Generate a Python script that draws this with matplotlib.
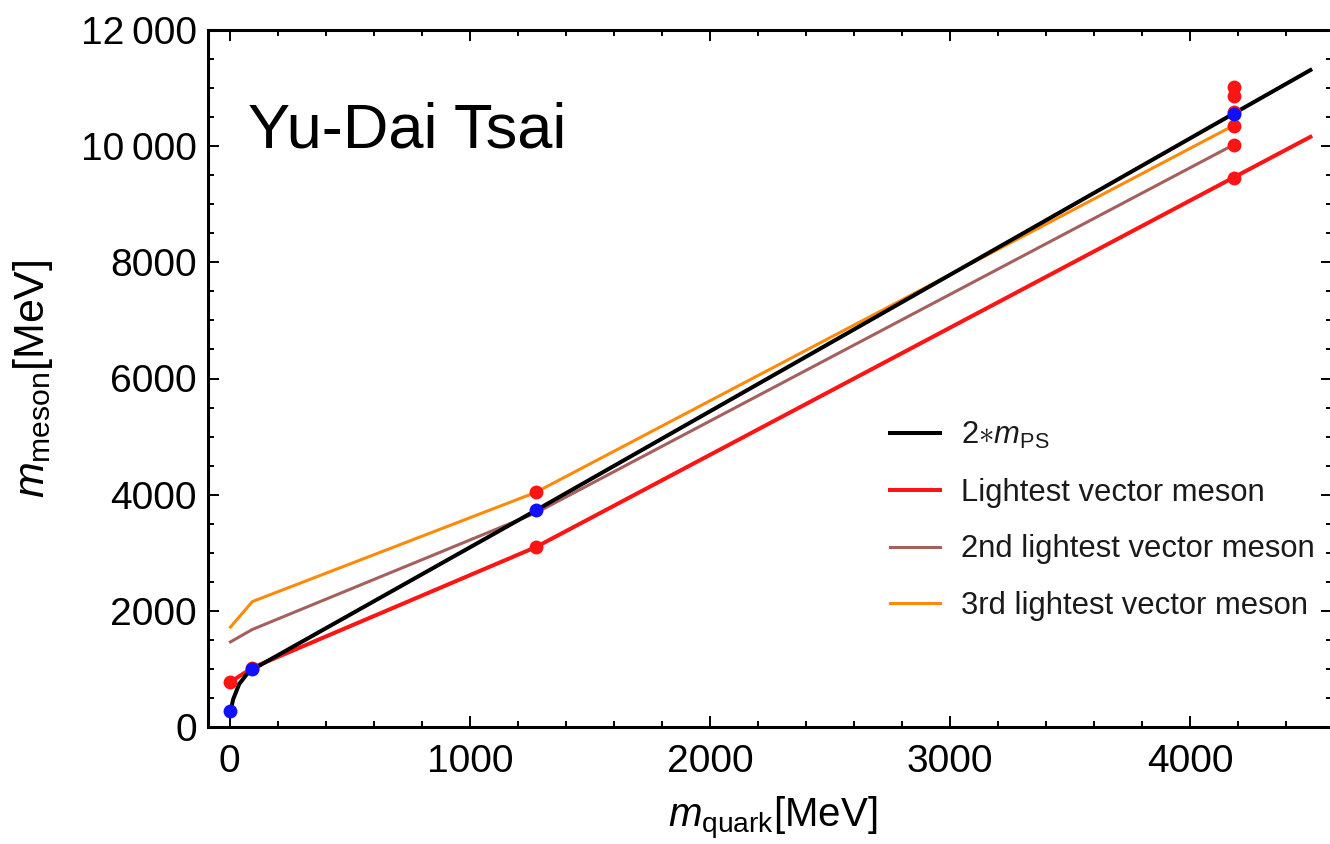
import matplotlib
matplotlib.use("Agg")
import matplotlib.pyplot as plt
from matplotlib.ticker import MultipleLocator, FixedLocator, FixedFormatter

plt.rcParams['font.family'] = ['Liberation Sans', 'DejaVu Sans']
plt.rcParams['mathtext.fontset'] = 'custom'
plt.rcParams['mathtext.rm'] = 'Liberation Sans'
plt.rcParams['mathtext.it'] = 'Liberation Sans:italic'
plt.rcParams['mathtext.bf'] = 'Liberation Sans:bold'

# Quark masses [MeV]: light (u/d), strange, charm, bottom
m_light, m_s, m_c, m_b = 3.5, 95, 1275, 4180

# Twice the lightest pseudoscalar mass (curve and measured points)
ps_x = [3.5, 15, 40, 70, 95, 1275, 4180, 4500]
ps_y = [270, 480, 740, 900, 990, 3730, 10560, 11310]
ps_pts_x = [m_light, m_s, m_c, m_b]
ps_pts_y = [270, 990, 3730, 10560]

# Vector meson families
v1_x = [m_light, m_s, m_c, m_b, 4500]
v1_y = [775, 1020, 3097, 9460, 10160]
v2_x = [m_light, m_s, m_c, m_b]
v2_y = [1465, 1680, 3686, 10023]
v3_x = [m_light, m_s, m_c, m_b]
v3_y = [1720, 2160, 4040, 10355]

# Observed vector meson states
vec_pts_x = [m_light, m_s, m_c, m_c, m_b, m_b, m_b, m_b, m_b, m_b]
vec_pts_y = [775, 1020, 3097, 4040, 9460, 10023, 10355, 10580, 10860, 11020]

labels = [r'$2{\ast}m_{\rm PS}$', 'Lightest vector meson',
          '2nd lightest vector meson', '3rd lightest vector meson']

y_ticks = [0, 2000, 4000, 6000, 8000, 10000, 12000]
y_ticklabels = ['0', '2000', '4000', '6000', '8000', '10\u2009000', '12\u2009000']
x_ticks = [0, 1000, 2000, 3000, 4000]

RED = '#ff1414'
BROWN = '#a4605c'
ORANGE = '#ff8a0a'
BLUE = '#1010ff'

fig = plt.figure(figsize=(13.30, 8.44), dpi=100)
ax = fig.add_axes([208 / 1330, 117 / 844, 1124 / 1330, 697 / 844])

ax.plot(ps_x, ps_y, color='black', lw=2.9, label=labels[0], zorder=3)
ax.plot(v1_x, v1_y, color=RED, lw=2.9, label=labels[1], zorder=2)
ax.plot(v2_x, v2_y, color=BROWN, lw=2.2, label=labels[2], zorder=2)
ax.plot(v3_x, v3_y, color=ORANGE, lw=2.2, label=labels[3], zorder=2)

ax.plot(vec_pts_x, vec_pts_y, 'o', color=RED, ms=10, mec='none', zorder=4)
ax.plot(ps_pts_x, ps_pts_y, 'o', color=BLUE, ms=10, mec='none', zorder=5)

ax.set_xlim(-90, 4590)
ax.set_ylim(0, 12000)

ax.xaxis.set_major_locator(FixedLocator(x_ticks))
ax.xaxis.set_minor_locator(MultipleLocator(200))
ax.yaxis.set_major_locator(FixedLocator(y_ticks))
ax.yaxis.set_major_formatter(FixedFormatter(y_ticklabels))
ax.yaxis.set_minor_locator(MultipleLocator(500))

ax.tick_params(which='both', direction='in', top=True, right=True, width=1.4)
ax.tick_params(which='major', length=8, labelsize=28)
ax.tick_params(which='minor', length=4)
ax.tick_params(axis='x', pad=12)
ax.tick_params(axis='y', pad=8)
for sp in ax.spines.values():
    sp.set_linewidth(2.2)

ax.set_xlabel(r'$m_{\rm quark}$[MeV]', fontsize=29)
ax.set_ylabel(r'$m_{\rm meson}$[MeV]', fontsize=31)
ax.xaxis.set_label_coords((773 - 208) / 1124, -(795 - 727) / 697)
ax.yaxis.set_label_coords(-(208 - 55) / 1124, (727 - 379) / 697)

ax.text(248 / 1330, (844 - 147) / 844, 'Yu-Dai Tsai', transform=fig.transFigure,
        fontsize=45.5, ha='left', va='baseline')

leg = ax.legend(loc='upper left', bbox_to_anchor=(890 / 1330, (844 - 420) / 844),
                bbox_transform=fig.transFigure, frameon=False, fontsize=22.3,
                handlelength=1.63, handletextpad=0.65, labelspacing=0.86,
                borderpad=0, borderaxespad=0)
for t in leg.get_texts():
    t.set_color('#1a1a1a')

fig.savefig('out.png', dpi=100)
